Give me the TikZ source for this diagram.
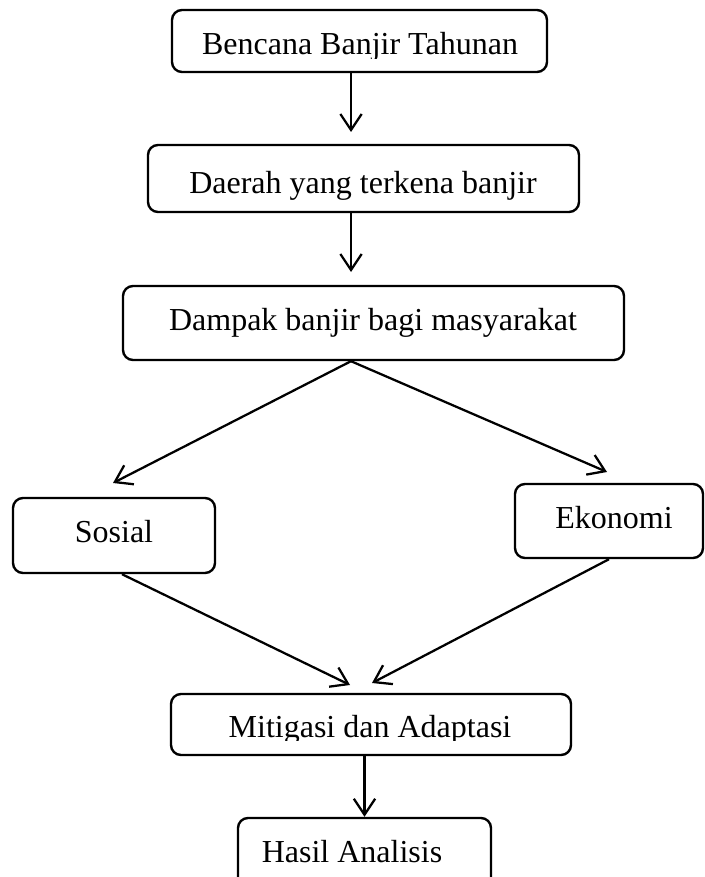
\documentclass[tikz,border=0pt]{standalone}
\usepackage{fontspec}
\setmainfont{Liberation Serif}
\usetikzlibrary{arrows.meta}
\begin{document}
\begin{tikzpicture}[x=0.75pt,y=-0.75pt,
  box/.style={draw, line width=1.8pt, rounded corners=7.5pt, inner sep=0pt, rectangle},
  lbl/.style={anchor=base, inner sep=0pt, font=\fontsize{24}{28}\selectfont},
  arr/.style={line width=1.7pt, -{Straight Barb[length=12pt,width=16pt]}}]
\useasboundingbox (0,0) rectangle (705,877);

% boxes
\node[box, minimum width=281.25pt, minimum height=46.5pt]  (b1) at (359.5,41) {};
\node[box, minimum width=323.25pt, minimum height=50.25pt] (b2) at (363.5,178.5) {};
\node[box, minimum width=375.75pt, minimum height=55.5pt]  (b3) at (373.5,323) {};
\node[box, minimum width=151.5pt,  minimum height=56.25pt] (so) at (114,535.5) {};
\node[box, minimum width=141pt,    minimum height=55.5pt]  (ek) at (609,521) {};
\node[box, minimum width=300pt,    minimum height=45.75pt] (mi) at (371,724.5) {};
\node[box, minimum width=189.75pt, minimum height=54pt]    (ha) at (364.5,854) {};

% texts
\begin{scope}
  \clip (172,10) rectangle (547,58.5);
  \node[lbl] (t-b1) at (360,55) {Bencana Banjir Tahunan};
\end{scope}
\node[lbl] (t-b2) at (363,194) {Daerah yang terkena banjir};
\node[lbl] (t-b3) at (373,330) {Dampak banjir bagi masyarakat};
\node[lbl] (t-so) at (114,542) {Sosial};
\node[lbl] (t-ek) at (614,528) {Ekonomi};
\begin{scope}
  \clip (171,694) rectangle (571,740);
  \node[lbl] (t-mi) at (370,737) {Mitigasi dan Adaptasi};
\end{scope}
\node[lbl] (t-ha) at (352,862) {Hasil Analisis};

% arrow end points
\coordinate (e1) at (351,132);
\coordinate (e2) at (351,272);
\coordinate (e3) at (113,483);
\coordinate (e4) at (607,472);
\coordinate (e5) at (350,685);
\coordinate (e6) at (372,683);

% connectors
\draw[arr] (b1.south -| e1) -- (e1);
\draw[arr] (b2.south -| e2) -- (e2);
\draw[arr] (b3.south -| e2) -- (e3);
\draw[arr] (b3.south -| e2) -- (e4);
\draw[arr] ([xshift=6pt]so.south) -- (e5);
\draw[arr] (ek.south) -- (e6);
\draw[arr] (mi.south -| ha.north) -- (ha.north);
\end{tikzpicture}
\end{document}
